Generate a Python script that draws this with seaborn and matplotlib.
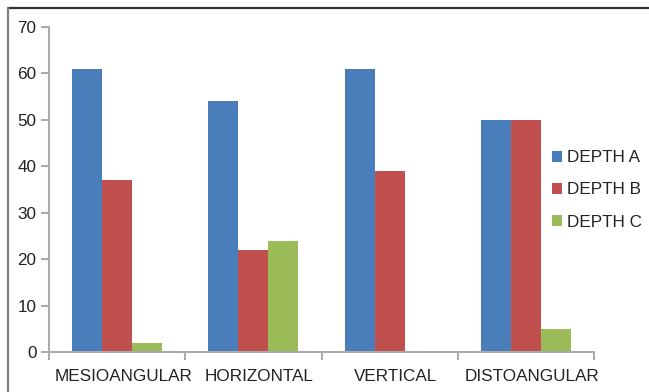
import matplotlib
matplotlib.use("Agg")
import matplotlib.pyplot as plt
import matplotlib.transforms as mtransforms
from matplotlib.lines import Line2D
import seaborn as sns
import pandas as pd

categories = ["MESIOANGULAR", "HORIZONTAL", "VERTICAL", "DISTOANGULAR"]
series = ["DEPTH A", "DEPTH B", "DEPTH C"]
depth_a = [61, 54, 61, 50]
depth_b = [37, 22, 39, 50]
depth_c = [2, 24, 0, 5]
colors = ["#4A7EBB", "#C0504D", "#9BBB59"]
y_ticks = [0, 10, 20, 30, 40, 50, 60, 70]

rows = []
for name, vals in zip(series, [depth_a, depth_b, depth_c]):
    for cat, v in zip(categories, vals):
        rows.append({"category": cat, "series": name, "value": v})
df = pd.DataFrame(rows)

sns.set_theme(style="white")
plt.rcParams["font.family"] = ["Liberation Sans", "DejaVu Sans"]

W, H = 649, 392
fig = plt.figure(figsize=(W / 100, H / 100), dpi=100)
ax = fig.add_axes([49 / W, 1 - 352 / H, (594 - 49) / W, (352 - 27) / H])

sns.barplot(data=df, x="category", y="value", hue="series", order=categories,
            hue_order=series, palette=colors, width=0.66, saturation=1,
            linewidth=0, ax=ax, legend=True)

axis_grey = "#ABABAB"
ax.set_ylim(0, 70)
ax.set_xlim(-0.5, len(categories) - 0.5)
ax.set_yticks(y_ticks)
ax.set_xlabel("")
ax.set_ylabel("")
for side in ["top", "right"]:
    ax.spines[side].set_visible(False)
for side in ["left", "bottom"]:
    ax.spines[side].set_color(axis_grey)
    ax.spines[side].set_linewidth(1.5)

ax.tick_params(axis="y", which="major", left=True, length=6, width=1.5,
               color=axis_grey, labelsize=12.3, pad=3, labelcolor="#222222")
ax.tick_params(axis="x", which="major", bottom=False, length=0,
               labelsize=12.3, pad=12.5, labelcolor="#222222")
ax.set_xticks([i + 0.5 for i in range(-1, len(categories))], minor=True)
ax.tick_params(axis="x", which="minor", bottom=True, length=6, width=1.5,
               color=axis_grey)

# nudge category labels slightly to the right
shift = mtransforms.ScaledTranslation(6 / 100, 0, fig.dpi_scale_trans)
for lbl in ax.get_xticklabels():
    lbl.set_transform(lbl.get_transform() + shift)

leg = ax.legend(loc="center left", bbox_to_anchor=(552 / W, 1 - 190 / H),
                bbox_transform=fig.transFigure, frameon=False,
                fontsize=12.3, handlelength=0.6, handleheight=0.6,
                handletextpad=0.3, labelspacing=1.0, borderaxespad=0,
                borderpad=0)
for t in leg.get_texts():
    t.set_color("#222222")

# outer frame: top and left edges
fig.add_artist(Line2D([8 / W, 1], [1 - 8 / H, 1 - 8 / H],
                      transform=fig.transFigure, color="#333333", lw=1.6))
fig.add_artist(Line2D([8 / W, 8 / W], [0, 1 - 8 / H],
                      transform=fig.transFigure, color="#7F7F7F", lw=1.6))

fig.savefig("out.png", dpi=100)
